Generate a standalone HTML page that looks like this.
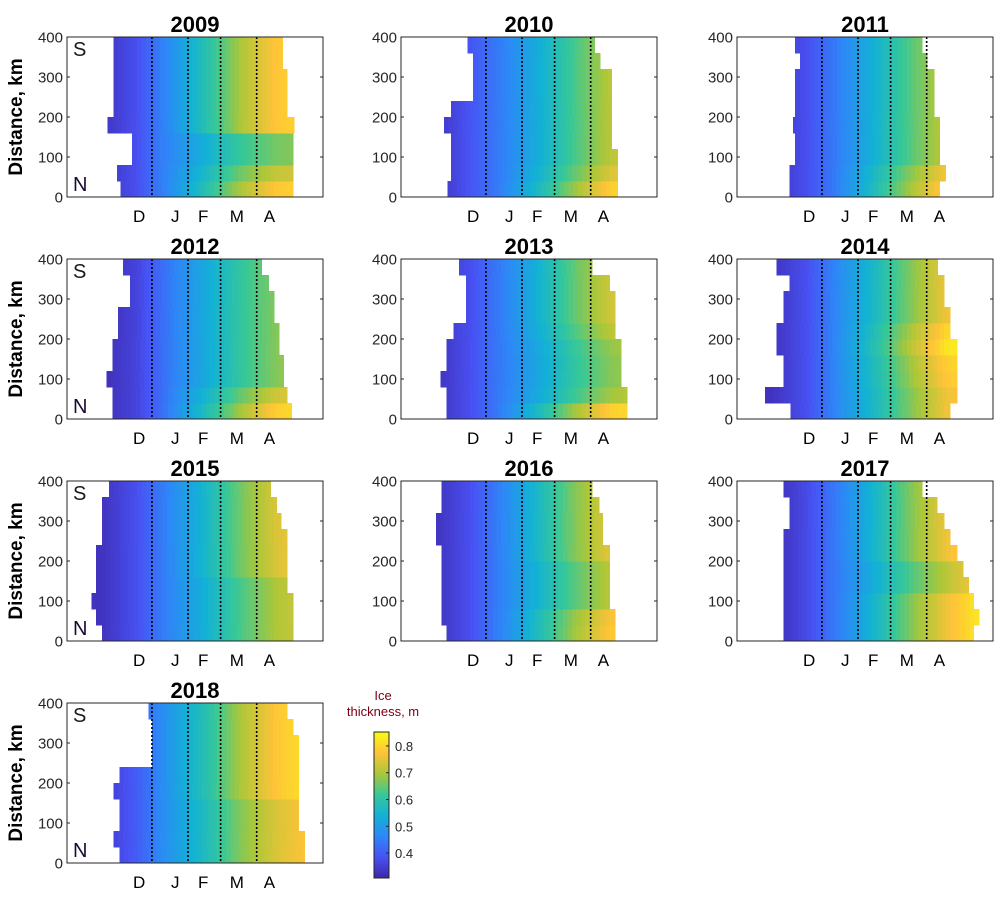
<!DOCTYPE html>
<html><head><meta charset="utf-8"><style>
html,body{margin:0;padding:0;background:#fff;}
svg text{font-family:"Liberation Sans",Arial,sans-serif;}
</style></head><body>
<svg id="fig" width="1000" height="896" viewBox="0 0 1000 896" xmlns="http://www.w3.org/2000/svg"></svg>
<script>
// ---- data ----
const years = [2009,2010,2011,2012,2013,2014,2015,2016,2017,2018];
const monthLabels = ["D","J","F","M","A"];
const monthTickDays = [62,93,117,146,174];
const dottedDays = [73,104,132,163];
const yTicks = [0,100,200,300,400];
const bandEdgesKm = [0,40,80,120,160,200,240,280,320,360,400];
const profileDays = [30,60,90,120,150,180,210];
const cbTicks = [0.4,0.5,0.6,0.7,0.8];
// per-panel band start/end (days), bands bottom(0-40km) to top(360-400km)
const start2009=[46,43,56,56,35,40,40,40,40,40], end2009=[194,194,194,194,195,189,189,189,185,185];
const start2010=[40,43,43,43,37,43,62,62,62,57], end2010=[186,186,186,181,181,181,181,181,171,166];
const start2011=[45,45,50,50,48,50,50,50,54,50], end2011=[174,179,174,174,174,169,169,169,163,159];
const start2012=[39,39,34,39,39,44,44,54,54,48], end2012=[193,189,186,186,182,182,178,178,173,167];
const start2013=[39,39,34,39,39,45,56,56,56,50], end2013=[194,194,189,189,189,184,184,184,179,164];
const start2014=[46,24,40,40,34,34,40,40,45,34], end2014=[183,189,189,189,189,183,183,178,178,172];
const start2015=[30,25,21,25,25,25,30,30,30,36], end2015=[194,194,194,189,189,189,189,184,180,175];
const start2016=[39,35,35,35,35,35,30,30,35,35], end2016=[184,184,179,179,179,179,173,173,170,164];
const start2017=[40,40,40,40,40,40,40,45,45,40], end2017=[203,208,203,199,194,189,183,178,172,159];
const start2018=[45,40,45,45,40,45,73,73,73,70], end2018=[204,204,199,199,199,199,199,199,194,189];
// thickness profile (m) at profileDays
const prof2009=[0.33,0.38,0.48,0.59,0.70,0.78,0.80];
const prof2010=[0.33,0.39,0.46,0.54,0.63,0.71,0.74];
const prof2011=[0.33,0.38,0.46,0.55,0.64,0.72,0.75];
const prof2012=[0.32,0.36,0.45,0.53,0.61,0.67,0.70];
const prof2013=[0.33,0.38,0.46,0.55,0.65,0.73,0.76];
const prof2014=[0.33,0.38,0.48,0.57,0.67,0.76,0.80];
const prof2015=[0.33,0.38,0.47,0.56,0.66,0.74,0.78];
const prof2016=[0.33,0.38,0.47,0.57,0.67,0.75,0.78];
const prof2017=[0.32,0.37,0.46,0.56,0.67,0.76,0.83];
const prof2018=[0.34,0.40,0.50,0.59,0.70,0.78,0.82];
// late-season band adjustment (m)
const boost2009=[0.0,-0.06,-0.12,-0.12,0,0,0,0,0,0];
const boost2010=[0.08,0.03,0,0,0,0,0,0,0,0];
const boost2011=[0.08,0.05,0,0,0,0,0,0,0,0];
const boost2012=[0.12,0.06,0,0,0,0,0,0,0,0];
const boost2013=[0.06,-0.04,-0.06,-0.06,-0.05,-0.02,0,0,0,0];
const boost2014=[0,0,0.02,0.03,0.06,0.04,0,0,0,0];
const boost2015=[-0.04,-0.04,-0.04,-0.04,0,0,0,0,0,0];
const boost2016=[0.03,0.02,-0.04,-0.04,-0.04,0,0,0,0,0];
const boost2017=[0,0,0,-0.05,-0.05,0,0,0,0,0];
const boost2018=[-0.04,-0.04,-0.04,-0.04,0,0,0,0,0,0];

const starts=[start2009,start2010,start2011,start2012,start2013,start2014,start2015,start2016,start2017,start2018];
const ends=[end2009,end2010,end2011,end2012,end2013,end2014,end2015,end2016,end2017,end2018];
const profs=[prof2009,prof2010,prof2011,prof2012,prof2013,prof2014,prof2015,prof2016,prof2017,prof2018];
const boosts=[boost2009,boost2010,boost2011,boost2012,boost2013,boost2014,boost2015,boost2016,boost2017,boost2018];

// ---- layout ----
const NS="http://www.w3.org/2000/svg";
const svg=document.getElementById('fig');
const colLeft=[67,401,737], rowTop=[37,259,481,703];
const AW=256, AH=160, DAYMAX=220, CMIN=0.307, CMAX=0.852;
const par=[[0,62,38,168],[0.143,72,82,244],[0.286,46,135,247],[0.429,18,177,214],[0.571,55,200,151],[0.714,171,199,57],[0.857,254,195,56],[1,249,251,21]];
function parula(v){let t=(v-CMIN)/(CMAX-CMIN);t=Math.max(0,Math.min(1,t));
 for(let i=1;i<par.length;i++){if(t<=par[i][0]){const a=par[i-1],b=par[i],f=(t-a[0])/(b[0]-a[0]);
  return `rgb(${Math.round(a[1]+f*(b[1]-a[1]))},${Math.round(a[2]+f*(b[2]-a[2]))},${Math.round(a[3]+f*(b[3]-a[3]))})`;}}
 return 'rgb(249,251,21)';}
function interp(xs,ys,x){if(x<=xs[0])return ys[0];for(let i=1;i<xs.length;i++){if(x<=xs[i]){const f=(x-xs[i-1])/(xs[i]-xs[i-1]);return ys[i-1]+f*(ys[i]-ys[i-1]);}}return ys[ys.length-1];}
function el(tag,attrs,parent){const e=document.createElementNS(NS,tag);for(const k in attrs)e.setAttribute(k,attrs[k]);(parent||svg).appendChild(e);return e;}

years.forEach((yr,p)=>{
 const L=colLeft[p%3], T=rowTop[Math.floor(p/3)];
 const xs=d=>L+d/DAYMAX*AW, ys=km=>T+AH-km/400*AH;
 const g=el('g',{});
 
 
 const hm=el('g',{'shape-rendering':'crispEdges'},g);
 
 
 const st=starts[p], en=ends[p], pr=profs[p], bo=boosts[p];
 for(let b=0;b<10;b++){
  const y0=ys(bandEdgesKm[b+1]), y1=ys(bandEdgesKm[b]);
  for(let d=st[b]; d<en[b]; d+=4){
   const d2=Math.min(d+4,en[b]);
   const mid=(d+d2)/2;
   const f=Math.max(0,Math.min(1,(mid-80)/100));
   const v=interp(profileDays,pr,mid)+bo[b]*f;
   const r=el('rect',{x:xs(d).toFixed(2),y:y0.toFixed(2),width:(xs(d2)-xs(d)+0.6).toFixed(2),height:(y1-y0+0.5).toFixed(2),fill:parula(v)},hm);
   
   
  }
 }
 dottedDays.forEach(d=>{
  const l=el('line',{x1:xs(d),x2:xs(d),y1:T,y2:T+AH,stroke:'#000','stroke-width':1.6,'stroke-dasharray':'2 2'},g);
  
  
 });
 const box=el('rect',{x:L,y:T,width:AW,height:AH,fill:'none',stroke:'#262626','stroke-width':1},g);
 
 
 yTicks.forEach(v=>{
  const y=ys(v);
  el('line',{x1:L,x2:L+3,y1:y,y2:y,stroke:'#262626'},g);
  el('line',{x1:L+AW-3,x2:L+AW,y1:y,y2:y,stroke:'#262626'},g);
  const t=el('text',{x:L-4,y:y+5.5,'text-anchor':'end','font-size':15,fill:'#262626'},g);
  t.textContent=v;
  
  
 });
 monthLabels.forEach((m,i)=>{
  const t=el('text',{x:xs(monthTickDays[i]),y:T+AH+25,'text-anchor':'middle','font-size':17,fill:'#000'},g);
  t.textContent=m;
  
  
 });
 const ti=el('text',{x:L+AW/2,y:T-5,'text-anchor':'middle','font-size':22,'font-weight':'bold',fill:'#000'},g);
 ti.textContent=yr;
 
 
 if(p%3===0){
  const yl=el('text',{x:0,y:0,'text-anchor':'middle','font-size':19,'font-weight':'bold',fill:'#000',transform:`translate(22,${T+AH/2}) rotate(-90)`},g);
  yl.textContent='Distance, km';
  
  
  const s=el('text',{x:L+6,y:T+19,'font-size':20,fill:'#1a1a1a'},g);
  s.textContent='S';
  
  
  const n=el('text',{x:L+6,y:T+AH-6,'font-size':20,fill:'#1a0a30'},g);
  n.textContent='N';
  
  
 }
});

// ---- colorbar ----
const cb=el('g',{});


const CBX=374, CBY=732, CBW=15, CBH=146;
const cbs=v=>CBY+CBH-(v-CMIN)/(CMAX-CMIN)*CBH;
for(let i=0;i<CBH;i++){
 const v=CMIN+(CMAX-CMIN)*(CBH-i-0.5)/CBH;
 el('rect',{x:CBX,y:CBY+i,width:CBW,height:1.2,fill:parula(v),'shape-rendering':'crispEdges'},cb);
}
el('rect',{x:CBX,y:CBY,width:CBW,height:CBH,fill:'none',stroke:'#262626'},cb);
cbTicks.forEach(v=>{
 const y=cbs(v);
 el('line',{x1:CBX+CBW-3,x2:CBX+CBW,y1:y,y2:y,stroke:'#262626'},cb);
 const t=el('text',{x:CBX+CBW+6,y:y+5,'font-size':13,fill:'#262626'},cb);
 t.textContent=v.toFixed(1);
 
 
});
const c1=el('text',{x:383,y:700,'text-anchor':'middle','font-size':13,fill:'#7a0010'},cb);
c1.textContent='Ice';


const c2=el('text',{x:383,y:716,'text-anchor':'middle','font-size':13,fill:'#7a0010'},cb);
c2.textContent='thickness, m';


</script>
</body></html>
